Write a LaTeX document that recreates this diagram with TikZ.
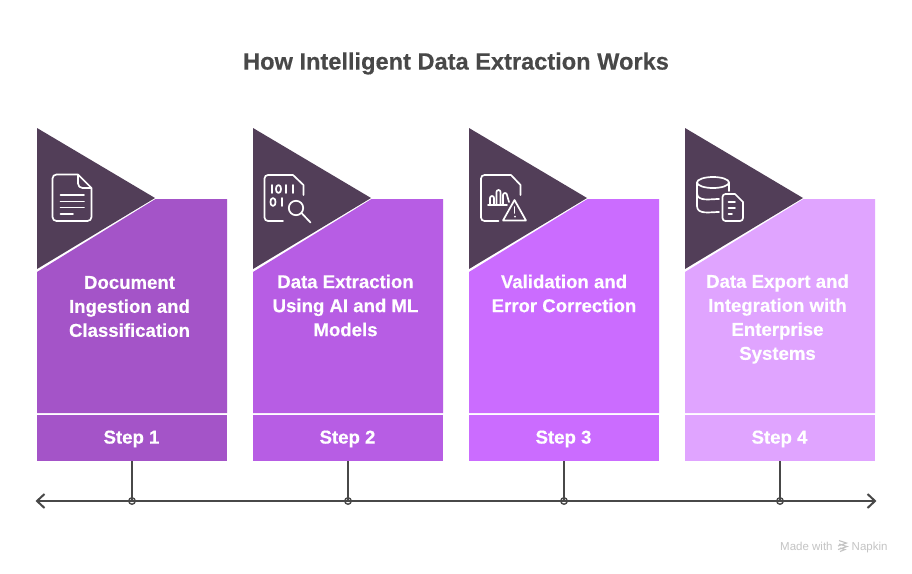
\documentclass[tikz,border=0pt]{standalone}
\usepackage{fontspec}
\setmainfont[BoldFeatures={FakeBold=0.35}]{Liberation Sans}
\definecolor{dark}{HTML}{523E58}
\definecolor{cA}{HTML}{A454C8}
\definecolor{cB}{HTML}{B75DE4}
\definecolor{cC}{HTML}{CB6CFF}
\definecolor{cD}{HTML}{E0A4FF}
\definecolor{ink}{HTML}{484848}
\definecolor{mark}{HTML}{C4C4C4}
\tikzset{
  iconline/.style={draw=white,line width=1.7pt,line join=round,line cap=round},
  heading/.style={font=\bfseries\fontsize{23.6}{28}\selectfont,text=ink,inner sep=0pt},
  steptext/.style={font=\bfseries\fontsize{18.6}{24}\selectfont,text=white,align=center,inner sep=0pt},
  axis/.style={draw=ink,line width=2pt},
  dot/.style={circle,draw=ink,line width=1.4pt,fill=none,minimum size=6.5pt,inner sep=0pt},
  credit/.style={font=\fontsize{11.5}{14}\selectfont,text=mark,inner sep=0pt}
}
\newcommand{\stepcol}[7]{%
  % #1 left x, #2 colour, #3 id, #4 step number, #5 text, #6 text y, #7 text x
  \begin{scope}[shift={(#1,0)}]
    \fill[#2] (0,272) -- (118.5,199) -- (190,199) -- (190,413) -- (0,413) -- cycle;
    \fill[dark] (0,128) -- (118,198) -- (0,269) -- cycle;
    \fill[#2] (0,415) rectangle (190,461);
    \node[steptext] (body#3) at (#7,#6) {#5};
    \node[steptext] (foot#3) at (94.5,439) {Step #4};
    \coordinate (base#3) at (95,461);
    \node[dot] (dot#3) at (95,501) {};
  \end{scope}
}
\begin{document}
\begin{tikzpicture}[x=1pt,y=-1pt]
\useasboundingbox (0,0) rectangle (912,573);
\fill[white] (0,0) rectangle (912,573);
\node[heading] (title) at (456,63.5) {How Intelligent Data Extraction Works};
\stepcol{37}{cA}{a}{1}{Document\\Ingestion and\\Classification}{306.5}{92.5}
\stepcol{253}{cB}{b}{2}{Data Extraction\\Using AI and ML\\Models}{305.5}{92.5}
\stepcol{469}{cC}{c}{3}{Validation and\\Error Correction}{293.5}{95}
\stepcol{685}{cD}{d}{4}{Data Export and\\Integration with\\Enterprise\\Systems}{319}{92.5}
% timeline
\coordinate (left) at (37,501);
\coordinate (right) at (875,501);
\draw[axis] (left) -- (right);
\foreach \k in {a,b,c,d} \draw[axis] (base\k) -- (dot\k.center);
\draw[axis,line join=miter] ([shift={(7.5,-7)}]left) -- (left) -- ([shift={(7.5,7)}]left);
\draw[axis,line join=miter] ([shift={(-7.5,-7)}]right) -- (right) -- ([shift={(-7.5,7)}]right);
% icon 1
\begin{scope}[iconline]
  \draw (78,174.5) -- (56.5,174.5) to[out=180,in=90] (52.5,178.5) -- (52.5,217) to[out=-90,in=180] (56.5,221) -- (87.5,221) to[out=0,in=-90] (91.5,217) -- (91.5,188) -- (78,174.5) -- (78,183.5) to[out=-90,in=180] (82.5,188) -- (91.5,188);
  \draw (60.5,195) -- (84,195) (60.5,201.5) -- (84,201.5) (60.5,207.5) -- (84,207.5) (60.5,214) -- (73,214);
\end{scope}
% icon 2
\begin{scope}[iconline]
  \draw (303.5,195) -- (303.5,185) -- (293,175) -- (268,175) to[out=180,in=90] (264.5,178.5) -- (264.5,217.5) to[out=-90,in=180] (268,221) -- (283,221);
  \draw (296,208) circle (7.2);
  \draw (301.5,213) -- (310.5,222.5);
  \draw (272,185) -- (272,193);
  \draw (278.5,185) to[out=0,in=90] (281,189) to[out=-90,in=0] (278.5,193) to[out=180,in=-90] (276,189) to[out=90,in=180] (278.5,185);
  \draw (286,185) -- (286,193) (293,185) -- (293,193);
  \draw (273,198) to[out=0,in=90] (275.5,202) to[out=-90,in=0] (273,206) to[out=180,in=-90] (270.5,202) to[out=90,in=180] (273,198);
  \draw (282,198) -- (282,206);
\end{scope}
% icon 3
\begin{scope}[iconline]
  \draw (520.5,195) -- (520.5,185) -- (511,175) -- (484.5,175) to[out=180,in=90] (481,178.5) -- (481,217.5) to[out=-90,in=180] (484.5,221) -- (498.5,221);
  \draw (488,205) -- (507,205);
  \draw (490,205) -- (490,198) to[out=90,in=180] (492,196) to[out=0,in=90] (494,198) -- (494,205);
  \draw (496.5,205) -- (496.5,192) to[out=90,in=180] (498.5,190) to[out=0,in=90] (500.5,192) -- (500.5,205);
  \draw (503,205) -- (503,195) to[out=90,in=180] (505,193) to[out=0,in=90] (507,195) -- (509,202);
  \draw (514.5,200) -- (526,220.5) -- (503,220.5) -- cycle;
  \draw (514.5,207) -- (514.5,213);
  \draw[line width=2pt] (514.5,216.5) -- (514.5,216.7);
\end{scope}
% icon 4
\begin{scope}[iconline]
  \draw (713,182.5) ellipse (16 and 5.5);
  \draw (697,182.5) -- (697,206) to[out=-90,in=180] (719,212);
  \draw (729,182.5) -- (729,191);
  \draw (697,193) to[out=-90,in=180] (719,199);
  \draw (735,194) -- (725.5,194) to[out=180,in=90] (722.5,197) -- (722.5,218) to[out=-90,in=180] (725.5,221) -- (740,221) to[out=0,in=-90] (743,218) -- (743,202) -- (735,194);
  \draw (728.5,202) -- (735,202) (728.5,208) -- (735,208) (728.5,214) -- (732,214);
\end{scope}
% credit
\node[credit,anchor=base west] (made) at (780,550) {Made with};
\node[credit,anchor=base west] (napkin) at (851.5,550) {Napkin};
\begin{scope}[draw=mark,line width=1.1pt]
  \draw (839,540.5) -- (846.5,543) -- (838,546) (839,544) -- (847,546.5) -- (838,549.5) (840,548) -- (845,549.5) -- (840,551.5);
\end{scope}
\end{tikzpicture}
\end{document}
